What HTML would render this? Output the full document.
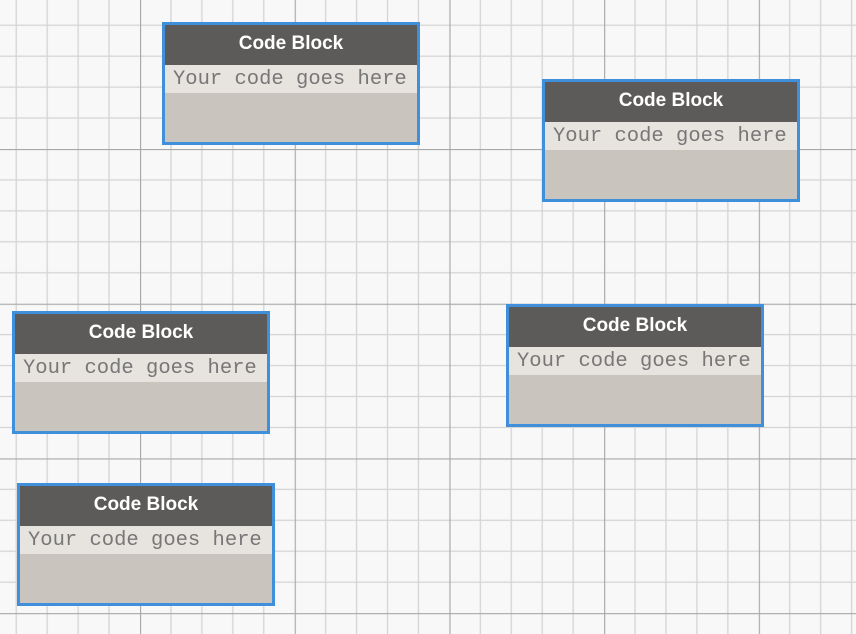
<!DOCTYPE html>
<html><head><style>
html,body{margin:0;padding:0;}
body{width:856px;height:634px;overflow:hidden;background:#f8f8f8;position:relative;}
svg{position:absolute;left:0;top:0;}
.n{position:absolute;width:252px;height:117px;border:3px solid #3f8fda;background:#c9c5be;}
.h{height:40px;background:#5d5b59;color:#fff;font:bold 19px "Liberation Sans",sans-serif;text-align:center;line-height:37px;}
.c{height:28px;background:#e7e3df;color:#777;font:20.5px "Liberation Mono",monospace;line-height:30px;padding-left:8px;white-space:nowrap;overflow:hidden;}
</style></head><body>
<svg width="856" height="634">
<defs>
<pattern id="g" patternUnits="userSpaceOnUse" x="140" y="149" width="154.7" height="154.7">
<g stroke="#d4d4d4" stroke-width="1.3">
<line x1="30.94" y1="0" x2="30.94" y2="154.7"/><line x1="61.88" y1="0" x2="61.88" y2="154.7"/><line x1="92.82" y1="0" x2="92.82" y2="154.7"/><line x1="123.76" y1="0" x2="123.76" y2="154.7"/>
<line y1="30.94" x1="0" y2="30.94" x2="154.7"/><line y1="61.88" x1="0" y2="61.88" x2="154.7"/><line y1="92.82" x1="0" y2="92.82" x2="154.7"/><line y1="123.76" x1="0" y2="123.76" x2="154.7"/>
</g>
<g stroke="#a8a8a8" stroke-width="1.3"><line x1="0.5" y1="0" x2="0.5" y2="154.7"/><line y1="0.5" x1="0" y2="0.5" x2="154.7"/></g>
</pattern></defs>
<rect width="856" height="634" fill="url(#g)"/>
</svg>
<div class="n" style="left:162px;top:22px"><div class="h">Code Block</div><div class="c">Your code goes here</div></div>
<div class="n" style="left:542px;top:79px"><div class="h">Code Block</div><div class="c">Your code goes here</div></div>
<div class="n" style="left:12px;top:311px"><div class="h">Code Block</div><div class="c">Your code goes here</div></div>
<div class="n" style="left:506px;top:304px"><div class="h">Code Block</div><div class="c">Your code goes here</div></div>
<div class="n" style="left:17px;top:483px"><div class="h">Code Block</div><div class="c">Your code goes here</div></div>
</body></html>
